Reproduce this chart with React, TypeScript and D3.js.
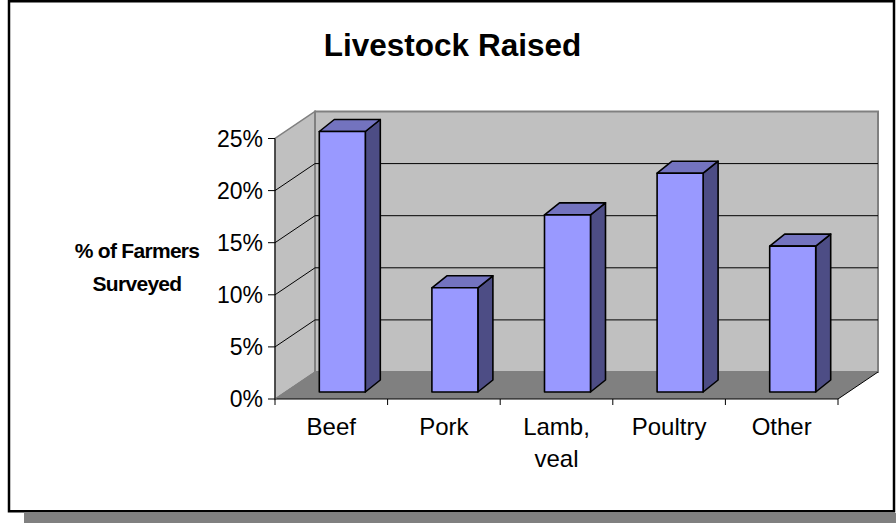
import React from "react";
import * as d3 from "d3";

const categories = ["Beef", "Pork", "Lamb, veal", "Poultry", "Other"];
const categoryLines = [["Beef"], ["Pork"], ["Lamb,", "veal"], ["Poultry"], ["Other"]];
const values = [25, 10, 17, 21, 14];
const yTicks = [0, 5, 10, 15, 20, 25];
const title = "Livestock Raised";
const yTitleLines = ["% of Farmers", "Surveyed"];

const W = 896;
const H = 523;
const FONT = "'Liberation Sans', Arial, sans-serif";

export default function App() {
  const x0 = 275;
  const x1 = 838;
  const y0 = 399;
  const y25 = 138.5;
  const DX = 40;
  const DY = -27;
  const barDX = 15;
  const barDY = -12;
  const barShiftX = 11;
  const barShiftY = -7;
  const barW = 46;

  const x = d3.scaleBand<string>().domain(categories).range([x0, x1]).paddingInner(0);
  const y = d3.scaleLinear().domain([0, 25]).range([y0, y25]);

  const pts = (a: [number, number][]) => a.map((p) => p.join(",")).join(" ");

  const grid = yTicks.filter((t) => t > 0 && t < 25);
  const backTop = y(25) + DY;
  const backBottom = y(0) + DY;

  return (
    <svg width={W} height={H} style={{ position: "absolute", left: 0, top: 0 }} fontFamily={FONT}>
      {/* shadow */}
      <rect x={24} y={513} width={W - 24} height={10} fill="#808080" />
      {/* frame */}
      <rect x={9} y={1.25} width={885} height={510} fill="#ffffff" stroke="#000" strokeWidth={2.5} />

      {/* title */}
      <text x={452.5} y={56} textAnchor="middle" fontWeight="bold" fontSize={31.5}>{title}</text>

      {/* y title */}
      {yTitleLines.map((l, i) => (
        <text key={l} x={137} y={258 + i * 33} textAnchor="middle" fontWeight="bold" fontSize={21} letterSpacing={-0.7}>{l}</text>
      ))}

      {/* side wall */}
      <polygon
        points={pts([[x0, y(0)], [x0, y(25)], [x0 + DX, backTop], [x0 + DX, backBottom]])}
        fill="#c0c0c0"
        stroke="#808080"
        strokeWidth={1.5}
      />
      {/* back wall */}
      <polygon
        points={pts([[x0 + DX, backBottom], [x0 + DX, backTop], [x1 + DX, backTop], [x1 + DX, backBottom]])}
        fill="#c0c0c0"
        stroke="#808080"
        strokeWidth={2}
      />
      {/* floor */}
      <polygon
        points={pts([[x0, y0], [x1, y0], [x1 + DX, y0 + DY], [x0 + DX, y0 + DY]])}
        fill="#808080"
        stroke="none"
      />
      {/* gridlines */}
      {grid.map((t) => (
        <g key={t}>
          <line x1={x0} y1={y(t)} x2={x0 + DX} y2={y(t) + DY} stroke="#000" strokeWidth={1} />
          <line x1={x0 + DX} y1={y(t) + DY} x2={x1 + DX} y2={y(t) + DY} stroke="#000" strokeWidth={1} />
        </g>
      ))}
      {/* floor edges */}
      <line x1={x0} y1={y0} x2={x1} y2={y0} stroke="#000" strokeWidth={1} />
      <line x1={x1} y1={y0} x2={x1 + DX} y2={y0 + DY} stroke="#000" strokeWidth={1} />
      <line x1={x0} y1={y0} x2={x0 + DX} y2={y0 + DY} stroke="#808080" strokeWidth={1} />

      {/* y axis */}
      <line x1={x0} y1={y(0)} x2={x0} y2={y(25)} stroke="#000" strokeWidth={1} />
      {yTicks.map((t) => (
        <g key={t}>
          <line x1={x0 - 7} y1={y(t)} x2={x0} y2={y(t)} stroke="#000" strokeWidth={1} />
          <text x={263} y={y(t) + 8} textAnchor="end" fontSize={23}>{t}%</text>
        </g>
      ))}
      {/* x ticks */}
      {[...categories.map((c) => x(c) as number), x1].map((v, i) => (
        <line key={i} x1={v} y1={y0} x2={v} y2={y0 + 6} stroke="#000" strokeWidth={1} />
      ))}

      {/* bars */}
      {categories.map((c, i) => {
        const left = (x(c) as number) + x.bandwidth() / 2 - barW / 2 + barShiftX;
        const right = left + barW;
        const top = y(values[i]) + barShiftY;
        const bottom = y(0) + barShiftY;
        return (
          <g key={c} stroke="#000" strokeWidth={1.6} strokeLinejoin="round">
            <polygon
              points={pts([[right, bottom], [right, top], [right + barDX, top + barDY], [right + barDX, bottom + barDY]])}
              fill="#4d4d85"
            />
            <polygon
              points={pts([[left, top], [left + barDX, top + barDY], [right + barDX, top + barDY], [right, top]])}
              fill="#7373bf"
            />
            <rect x={left} y={top} width={barW} height={bottom - top} fill="#9999ff" />
          </g>
        );
      })}

      {/* x labels */}
      {categories.map((c, i) => (
        <g key={c}>
          {categoryLines[i].map((l, j) => (
            <text
              key={l}
              x={(x(c) as number) + x.bandwidth() / 2}
              y={435 + j * 32}
              textAnchor="middle"
              fontSize={24}
            >
              {l}
            </text>
          ))}
        </g>
      ))}
    </svg>
  );
}
